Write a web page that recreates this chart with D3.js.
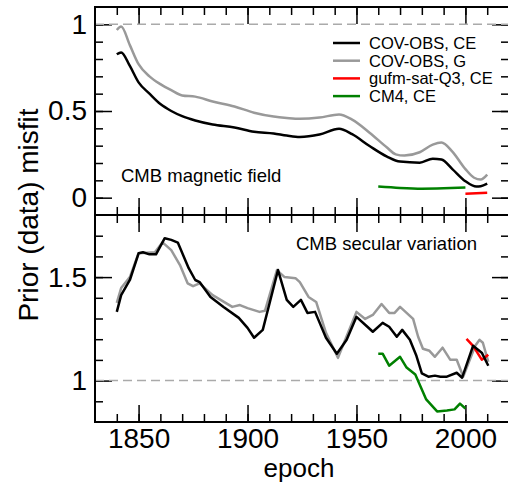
<!DOCTYPE html>
<html>
<head>
<meta charset="utf-8">
<script src="https://cdn.jsdelivr.net/npm/d3@7"></script>
<style>
  body { margin: 0; background: #fff; }
  text { font-family: "Liberation Sans", Arial, Helvetica, sans-serif; fill: #000; }
</style>
</head>
<body>
<script>
// ---- data ----
// top panel: CMB magnetic field
var fieldCeYears = [1840, 1842, 1846, 1850, 1855, 1860, 1865, 1870, 1876, 1884, 1894, 1903, 1912, 1918, 1924, 1933, 1942, 1948, 1956, 1964, 1970, 1979, 1985, 1989, 1994, 2000, 2005, 2007, 2010];
var fieldCeVals  = [0.827, 0.838, 0.76, 0.665, 0.60, 0.54, 0.50, 0.47, 0.445, 0.422, 0.405, 0.38, 0.37, 0.358, 0.35, 0.364, 0.398, 0.366, 0.298, 0.237, 0.208, 0.202, 0.225, 0.22, 0.165, 0.095, 0.064, 0.066, 0.081];
var fieldGYears  = [1840, 1842, 1846, 1850, 1855, 1860, 1865, 1870, 1876, 1884, 1894, 1903, 1912, 1918, 1924, 1933, 1942, 1948, 1956, 1964, 1968, 1972, 1979, 1985, 1989, 1994, 2000, 2004, 2007, 2010];
var fieldGVals   = [0.967, 0.987, 0.88, 0.77, 0.70, 0.655, 0.62, 0.59, 0.583, 0.555, 0.526, 0.49, 0.468, 0.46, 0.455, 0.462, 0.48, 0.45, 0.375, 0.289, 0.25, 0.243, 0.262, 0.306, 0.318, 0.266, 0.165, 0.115, 0.105, 0.133];
var fieldGufmYears = [2000, 2010];
var fieldGufmVals  = [0.023, 0.029];
var fieldCm4Years  = [1960, 1970, 1980, 1990, 2000];
var fieldCm4Vals   = [0.064, 0.056, 0.052, 0.054, 0.058];

// bottom panel: CMB secular variation
var svCeYears = [1840, 1842, 1846, 1850, 1852, 1855, 1858, 1862, 1865, 1868, 1873, 1876, 1878, 1883, 1889, 1896, 1900, 1903, 1907, 1914, 1918, 1921, 1924.5, 1927.5, 1931, 1936, 1941, 1945.5, 1950, 1955, 1957.5, 1962, 1965, 1968.5, 1971, 1974.5, 1977.5, 1980, 1983, 1986, 1988.5, 1991.5, 1996, 1998.5, 2003.5, 2007.5, 2010.5];
var svCeVals  = [1.332, 1.413, 1.486, 1.615, 1.62, 1.61, 1.61, 1.688, 1.68, 1.667, 1.543, 1.486, 1.476, 1.404, 1.356, 1.303, 1.255, 1.207, 1.245, 1.534, 1.39, 1.356, 1.39, 1.327, 1.332, 1.207, 1.13, 1.197, 1.308, 1.26, 1.236, 1.279, 1.26, 1.212, 1.245, 1.197, 1.12, 1.035, 1.019, 1.024, 1.019, 1.019, 1.038, 1.014, 1.168, 1.135, 1.072];
var svGYears  = [1840, 1842, 1846, 1850, 1857.5, 1861, 1865, 1869, 1872.5, 1875, 1878, 1884, 1893, 1896.5, 1900, 1905.5, 1908, 1913.5, 1917, 1922, 1924, 1928, 1931.5, 1936, 1941.5, 1950, 1954, 1957.5, 1961.5, 1965, 1967.5, 1970, 1976, 1978.3, 1980.5, 1983.5, 1986, 1989.5, 1993, 1996, 1999, 2004.5, 2006.5, 2008, 2010.5];
var svGVals   = [1.375, 1.447, 1.5, 1.615, 1.62, 1.668, 1.63, 1.558, 1.47, 1.456, 1.47, 1.413, 1.356, 1.365, 1.35, 1.332, 1.337, 1.534, 1.5, 1.495, 1.476, 1.404, 1.38, 1.231, 1.11, 1.332, 1.298, 1.317, 1.37, 1.327, 1.327, 1.356, 1.298, 1.212, 1.154, 1.144, 1.115, 1.159, 1.101, 1.101, 1.019, 1.168, 1.197, 1.183, 1.091];
var svGufmYears = [2000.5, 2003.5, 2007.5, 2010.5];
var svGufmVals  = [1.202, 1.168, 1.101, 1.125];
var svCm4Years  = [1960, 1962, 1965, 1970, 1973, 1977, 1982, 1987, 1991.5, 1995, 1997.5, 2000];
var svCm4Vals   = [1.13, 1.13, 1.072, 1.115, 1.063, 1.029, 0.909, 0.851, 0.856, 0.861, 0.889, 0.865];

var legendNames  = ["COV-OBS, CE", "COV-OBS, G", "gufm-sat-Q3, CE", "CM4, CE"];
var legendColors = ["#000000", "#999999", "#ff0000", "#008000"];

var xMajor = [1850, 1900, 1950, 2000];
var fieldMajor = [0, 0.5, 1];
var svMajor = [1, 1.5];

// ---- layout ----
var W = 508, H = 485;
var left = 95, right = 509, top1 = 7, mid = 215, bot = 422;

var svg = d3.select("body").append("svg").attr("width", W).attr("height", H);

var x = d3.scaleLinear().domain([1830, 2020]).range([left, right]);
var y1 = d3.scaleLinear().domain([-0.1, 1.1]).range([mid, top1]);
var y2 = d3.scaleLinear().domain([0.8, 1.8]).range([bot, mid]);

var xMinor = d3.range(1840, 2020, 10);
var fieldMinor = d3.range(0, 11).map(function(i) { return i / 10; });
var svMinor = d3.range(9, 18).map(function(i) { return i / 10; });

function pairs(xs, vs) { return xs.map(function(d, i) { return [d, vs[i]]; }); }

// axes: minor + major, ticks pointing into the plot
function addAxis(axisFn, scale, transform, major, minor, labels, pad) {
  var g = svg.append("g").attr("transform", transform);
  g.call(axisFn(scale).tickValues(minor).tickSize(-8).tickFormat(""));
  var a = axisFn(scale).tickValues(major).tickSize(-17).tickPadding(pad || 8);
  if (labels) a.tickFormat(labels); else a.tickFormat("");
  var g2 = svg.append("g").attr("transform", transform);
  g2.call(a);
  [g, g2].forEach(function(s) {
    s.select(".domain").remove();
    s.selectAll(".tick line").attr("stroke", "#000").attr("stroke-width", 1.5);
    s.selectAll("text").style("font-size", "28px").attr("fill", "#000");
  });
  return g2;
}

var fmt = function(d) { return String(d); };

// top panel
addAxis(d3.axisTop, x, "translate(0," + top1 + ")", xMajor, xMinor, null);
addAxis(d3.axisBottom, x, "translate(0," + mid + ")", xMajor, xMinor, null);
addAxis(d3.axisLeft, y1, "translate(" + left + ",0)", fieldMajor, fieldMinor, fmt);
addAxis(d3.axisRight, y1, "translate(" + right + ",0)", fieldMajor, fieldMinor, null);
// bottom panel
addAxis(d3.axisTop, x, "translate(0," + mid + ")", xMajor, xMinor, null);
addAxis(d3.axisBottom, x, "translate(0," + bot + ")", xMajor, xMinor, fmt, 6);
addAxis(d3.axisLeft, y2, "translate(" + left + ",0)", svMajor, svMinor, fmt);
addAxis(d3.axisRight, y2, "translate(" + right + ",0)", svMajor, svMinor, null);

// dashed reference lines at 1
svg.append("line").attr("x1", left).attr("x2", right).attr("y1", y1(1)).attr("y2", y1(1))
  .attr("stroke", "#aaa").attr("stroke-width", 1.5).attr("stroke-dasharray", "9,5");
svg.append("line").attr("x1", left).attr("x2", right).attr("y1", y2(1)).attr("y2", y2(1))
  .attr("stroke", "#aaa").attr("stroke-width", 1.5).attr("stroke-dasharray", "9,5");

// frames
svg.append("rect").attr("x", left).attr("y", top1).attr("width", right - left).attr("height", mid - top1)
  .attr("fill", "none").attr("stroke", "#000").attr("stroke-width", 2);
svg.append("rect").attr("x", left).attr("y", mid).attr("width", right - left).attr("height", bot - mid)
  .attr("fill", "none").attr("stroke", "#000").attr("stroke-width", 2);

// lines
var lineTop = d3.line().x(function(d) { return x(d[0]); }).y(function(d) { return y1(d[1]); }).curve(d3.curveMonotoneX);
var lineBot = d3.line().x(function(d) { return x(d[0]); }).y(function(d) { return y2(d[1]); });

function draw(gen, data, color) {
  svg.append("path").datum(data).attr("d", gen).attr("fill", "none")
    .attr("stroke", color).attr("stroke-width", 2.5).attr("stroke-linejoin", "round");
}

draw(lineTop, pairs(fieldGYears, fieldGVals), legendColors[1]);
draw(lineTop, pairs(fieldCeYears, fieldCeVals), legendColors[0]);
draw(lineTop, pairs(fieldCm4Years, fieldCm4Vals), legendColors[3]);
draw(lineTop, pairs(fieldGufmYears, fieldGufmVals), legendColors[2]);

draw(lineBot, pairs(svGYears, svGVals), legendColors[1]);
draw(lineBot, pairs(svCm4Years, svCm4Vals), legendColors[3]);
draw(lineBot, pairs(svGufmYears, svGufmVals), legendColors[2]);
draw(lineBot, pairs(svCeYears, svCeVals), legendColors[0]);

// legend
var leg = svg.append("g");
legendNames.forEach(function(n, i) {
  var yy = 43 + i * 17.7;
  leg.append("line").attr("x1", 333).attr("x2", 360).attr("y1", yy).attr("y2", yy)
    .attr("stroke", legendColors[i]).attr("stroke-width", 2.5);
  leg.append("text").attr("x", 369).attr("y", yy + 6).style("font-size", "16.5px").text(n);
});

// panel labels
svg.append("text").attr("x", 121).attr("y", 182).style("font-size", "18.5px").text("CMB magnetic field");
svg.append("text").attr("x", 296).attr("y", 250).style("font-size", "18.5px").text("CMB secular variation");

// axis titles
svg.append("text").attr("x", 299).attr("y", 477).attr("text-anchor", "middle")
  .style("font-size", "26px").text("epoch");
svg.append("text").attr("transform", "translate(38," + mid + ") rotate(-90)").attr("text-anchor", "middle")
  .style("font-size", "28px").text("Prior (data) misfit");
</script>
</body>
</html>
